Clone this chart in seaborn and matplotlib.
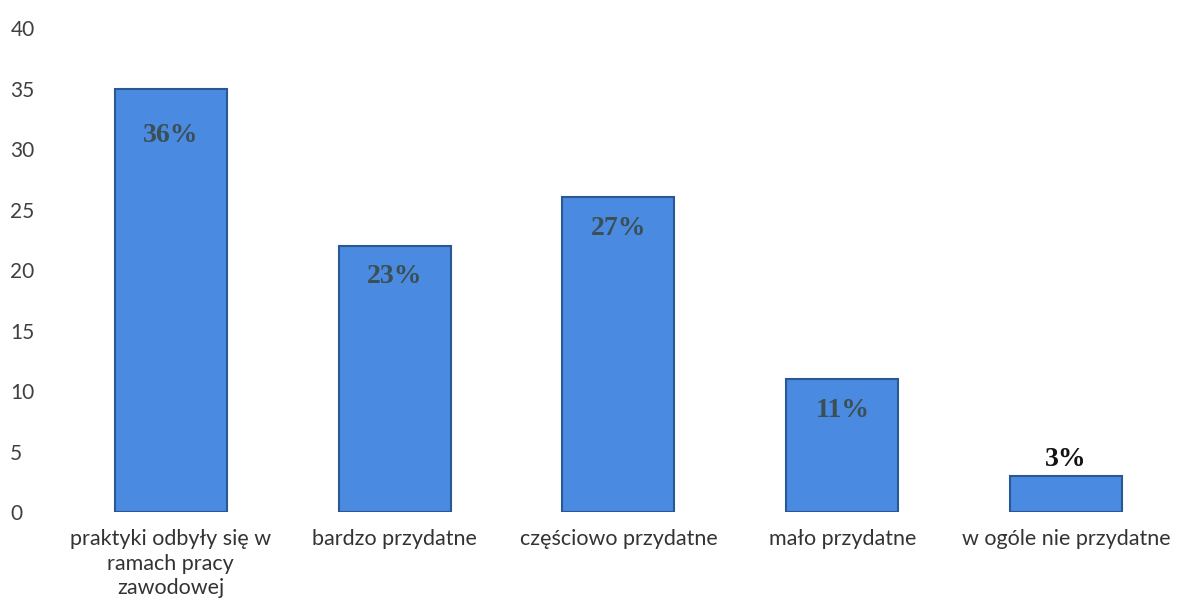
import matplotlib
matplotlib.use("Agg")
import matplotlib.pyplot as plt
import seaborn as sns
import pandas as pd

categories = [
    "praktyki odbyły się w\nramach pracy\nzawodowej",
    "bardzo przydatne",
    "częściowo przydatne",
    "mało przydatne",
    "w ogóle nie przydatne",
]
values = [35, 22, 26, 11, 3]
labels = ["36%", "23%", "27%", "11%", "3%"]

df = pd.DataFrame({"kategoria": categories, "liczba": values})

sns.set_theme(style="white")
plt.rcParams["font.family"] = ["Lato", "DejaVu Sans"]

fig = plt.figure(figsize=(11.78, 6.09), dpi=100)
ax = fig.add_axes([0.05, 0.159, 0.95, 0.795])

sns.barplot(data=df, x="kategoria", y="liczba", color="#4a8ae0", saturation=1,
            width=0.5, edgecolor="#2a5894", linewidth=1.5, ax=ax)

# label drop below bar top (first one sits lower in the original)
drops = [3.9, 2.5, 2.6, 2.6]
for i, (v, lab) in enumerate(zip(values, labels)):
    if v < 5:
        ax.text(i, v + 0.3, lab, ha="center", va="bottom", fontsize=20,
                fontweight="bold", family="Liberation Serif", color="#111111")
    else:
        ax.text(i, v - drops[i], lab, ha="center", va="center", fontsize=20,
                fontweight="bold", family="Liberation Serif", color="#3b4f55")

ax.set_ylim(0, 40)
ax.set_xlim(-0.5, 4.5)
ax.set_yticks(range(0, 41, 5))
ax.set_xlabel("")
ax.set_ylabel("")
ax.tick_params(axis="y", labelsize=15, colors="#404040", pad=35, length=0)
ax.tick_params(axis="x", labelsize=15.5, colors="#333333", length=0, pad=12)
for t in ax.get_yticklabels():
    t.set_horizontalalignment("left")
for t in ax.get_xticklabels():
    t.set_linespacing(1.3)
sns.despine(left=True, bottom=True)

fig.savefig("out.png", dpi=100)
